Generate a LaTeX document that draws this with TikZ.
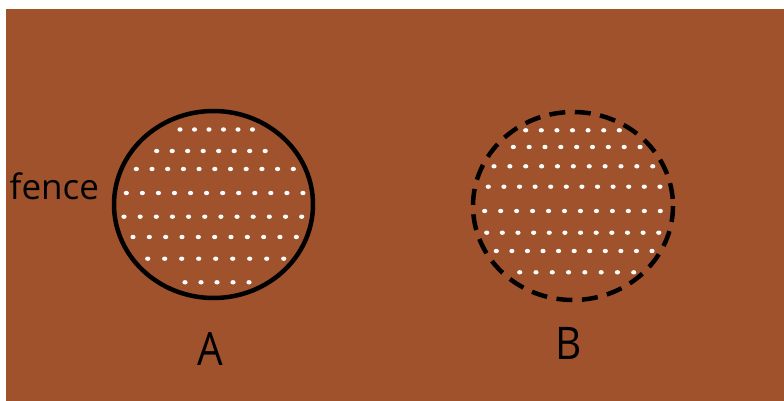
\documentclass[tikz,border=0pt]{standalone}
\usepackage{fontspec}
\setmainfont{Open Sans}
\usepackage{tikz}
\usetikzlibrary{positioning}
\definecolor{Soil}{HTML}{A0522D}

\begin{document}
\begin{tikzpicture}[x=1pt, y=-1pt,
  rim_solid/.style={draw=black, line width=4.5pt},
  rim_dashed/.style={draw=black, line width=4.5pt, dash pattern=on 16pt off 9.5pt},
  seed_dot/.style={fill=white},
  tag_txt/.style={text=black, inner sep=0pt},
]
  \useasboundingbox[fill=white] (0,0) rectangle (784,401);
  \fill[Soil] (6,9) rectangle (784,401);
  \draw[rim_solid] (213.5,204.5) ellipse (99.5 and 93.5);
  \draw[rim_dashed] (573,206) ellipse (100 and 94);
  \foreach \y/\x/\d/\n in {129.5/180/14.5/6, 151/156.7/15.5/8, 169/136.3/15.7/11,
      193/126.3/16.06/12, 216.7/124/16.15/12, 237/133/16.33/11,
      258.7/147.7/17/9, 282.3/185/16/5,
      130.3/525.7/15.6/7, 147/513.3/15.84/9, 166.3/494/15.87/11,
      186.7/488.3/15.6/12, 211/484.7/15.96/12, 232.7/486.7/15.64/12,
      251/496.3/15.57/11, 272.3/519.7/16.29/8}
    \foreach \k in {1,...,\n}
      \fill[seed_dot] ({\x+(\k-1)*\d},\y) ellipse (2.6 and 2.2);
  \node[tag_txt, anchor=base west, font=\fontsize{35}{40}\selectfont] (fence) at (9.5,199) {fence};
  \node[tag_txt, anchor=base, font=\fontsize{46}{50}\selectfont, xscale=0.88] (labA) at (210,365) {A};
  \node[tag_txt, anchor=base, font=\fontsize{45}{50}\selectfont, xscale=0.9] (labB) at (569,359) {B};
\end{tikzpicture}
\end{document}
